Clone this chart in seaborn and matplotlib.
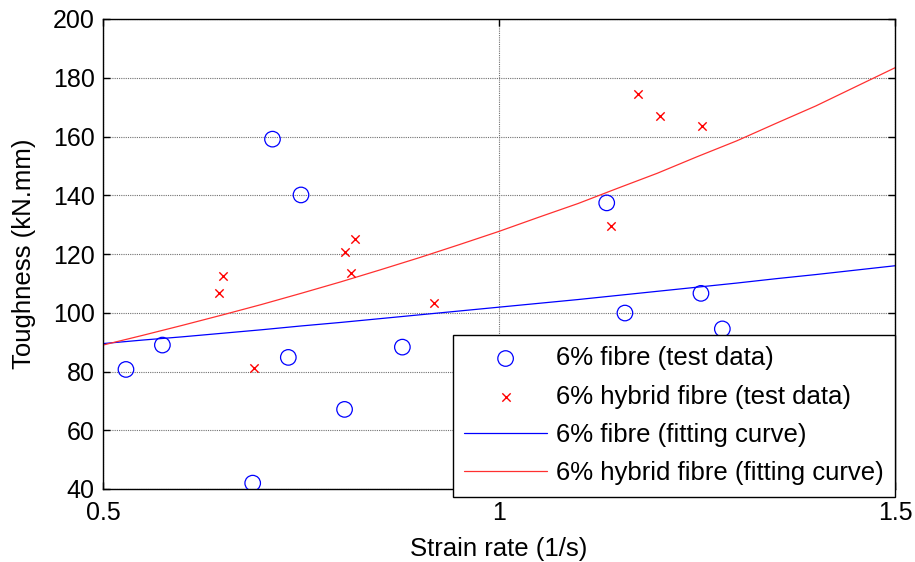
import matplotlib
matplotlib.use("Agg")
import matplotlib.pyplot as plt
import seaborn as sns
import pandas as pd

# ---- data ----
fibre_rate = [0.529, 0.575, 0.714, 0.750, 0.689, 0.734, 0.805, 0.878, 1.136, 1.159, 1.255, 1.282]
fibre_tough = [80.7, 89.0, 159.1, 140.1, 42.0, 84.8, 67.1, 88.3, 137.4, 99.9, 106.6, 94.5]

hybrid_rate = [0.651, 0.646, 0.818, 0.806, 0.813, 0.691, 0.918, 1.175, 1.203, 1.256, 1.141, 1.144]
hybrid_tough = [112.6, 106.6, 125.1, 120.8, 113.4, 81.3, 103.2, 174.6, 167.1, 163.7, 129.6, 90.7]

fit_rate = [0.50, 0.55, 0.60, 0.65, 0.70, 0.75, 0.80, 0.85, 0.90, 0.95, 1.00,
            1.05, 1.10, 1.15, 1.20, 1.25, 1.30, 1.35, 1.40, 1.45, 1.50]
fibre_fit = [89.5, 90.7, 91.8, 93.0, 94.2, 95.5, 96.7, 98.0, 99.3, 100.6, 101.9,
             103.2, 104.5, 105.9, 107.3, 108.7, 110.1, 111.6, 113.0, 114.5, 116.0]
hybrid_fit = [89.0, 92.3, 95.7, 99.2, 102.8, 106.6, 110.5, 114.6, 118.8, 123.2, 127.7,
              132.5, 137.2, 142.4, 147.5, 153.1, 158.5, 164.5, 170.4, 176.9, 183.4]

x_ticks = [0.5, 1, 1.5]
x_tick_labels = ["0.5", "1", "1.5"]
y_ticks = [40, 60, 80, 100, 120, 140, 160, 180, 200]

labels = ["6% fibre (test data)", "6% hybrid fibre (test data)",
          "6% fibre (fitting curve)", "6% hybrid fibre (fitting curve)"]

# ---- style ----
sns.set_style("ticks")
plt.rcParams["font.family"] = ["Liberation Sans", "DejaVu Sans"]
plt.rcParams["text.color"] = "black"
plt.rcParams["axes.labelcolor"] = "black"
plt.rcParams["xtick.color"] = "black"
plt.rcParams["ytick.color"] = "black"

fig = plt.figure(figsize=(9.15, 5.62), dpi=100)
ax = fig.add_axes([103 / 915, 1 - 489 / 562, 792 / 915, 470 / 562])

df_f = pd.DataFrame({"rate": fibre_rate, "tough": fibre_tough})
df_h = pd.DataFrame({"rate": hybrid_rate, "tough": hybrid_tough})
df_fit = pd.DataFrame({"rate": fit_rate, "fibre": fibre_fit, "hybrid": hybrid_fit})

sns.scatterplot(data=df_f, x="rate", y="tough", marker="o", s=125,
                facecolor="none", edgecolor="#0000ff", linewidth=0.9,
                label=labels[0], ax=ax, zorder=3)
sns.scatterplot(data=df_h, x="rate", y="tough", marker="x", s=36,
                color="#ff0000", linewidth=1.0,
                label=labels[1], ax=ax, zorder=3)
sns.lineplot(data=df_fit, x="rate", y="fibre", color="#0000ff", linewidth=0.9,
             label=labels[2], ax=ax, zorder=2)
sns.lineplot(data=df_fit, x="rate", y="hybrid", color="#ff3030", linewidth=0.9,
             label=labels[3], ax=ax, zorder=2)

ax.set_xlim(0.5, 1.5)
ax.set_ylim(40, 200)
ax.set_xticks(x_ticks)
ax.set_xticklabels(x_tick_labels)
ax.set_yticks(y_ticks)

ax.grid(True, which="major", axis="both", linestyle=(0, (1, 1)),
        color="#707070", linewidth=0.8)
ax.set_axisbelow(True)

ax.tick_params(axis="both", direction="in", length=5, width=1.0,
               top=True, right=True, labelsize=18, colors="black")
ax.tick_params(axis="y", pad=6)
ax.tick_params(axis="x", pad=9)
for sp in ax.spines.values():
    sp.set_visible(True)
    sp.set_color("black")
    sp.set_linewidth(1.0)

ax.set_xlabel("Strain rate (1/s)", fontsize=18.5, labelpad=8, color="black")
ax.set_ylabel("Toughness (kN.mm)", fontsize=18.5, labelpad=12, color="black")

handles, labs = ax.get_legend_handles_labels()
order = [labs.index(l) for l in labels]
leg = ax.legend([handles[i] for i in order], [labs[i] for i in order],
                loc="lower right", bbox_to_anchor=(1.0, -0.017),
                borderaxespad=0, fontsize=18.5, frameon=True, fancybox=False,
                framealpha=1, edgecolor="black", handlelength=3.2,
                handletextpad=0.35, labelspacing=0.56, borderpad=0.45,
                labelcolor="black")
leg.get_frame().set_linewidth(1.0)
leg.set_zorder(10)

fig.savefig("out.png", dpi=100)
